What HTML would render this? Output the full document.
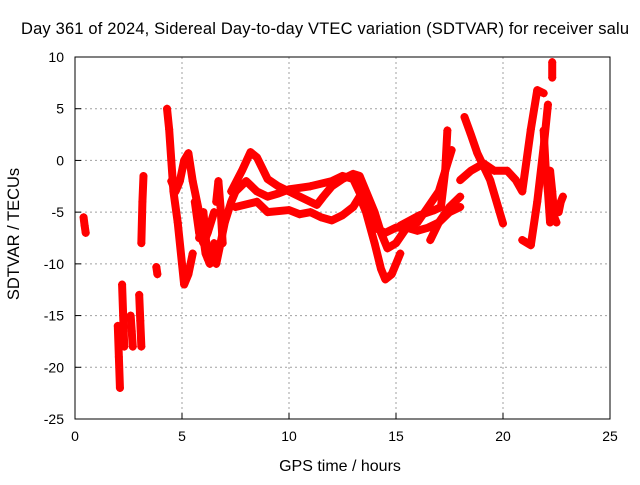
<!DOCTYPE html>
<html><head><meta charset="utf-8"><style>
body{margin:0;background:#fff}
svg text{font-family:"Liberation Sans",sans-serif;font-size:14px;fill:#000}
</style></head><body>
<svg width="640" height="480" xmlns="http://www.w3.org/2000/svg">
<rect width="640" height="480" fill="#fff"/>
<g id="grid"></g>
<g id="series"></g>
<rect x="75" y="57" width="535" height="362" fill="none" stroke="#000" stroke-width="1"/>
<g id="ticks"></g>
<text x="325" y="34" text-anchor="middle" style="font-size:16.5px" textLength="608">Day 361 of 2024, Sidereal Day-to-day VTEC variation (SDTVAR) for receiver salu</text>
<text x="340" y="471" text-anchor="middle" style="font-size:16px">GPS time / hours</text>
<text transform="translate(19,234) rotate(-90)" text-anchor="middle" style="font-size:16.5px">SDTVAR / TECUs</text>
</svg>
<script>
const xTicks=[0,5,10,15,20,25];
const yTicks=[-25,-20,-15,-10,-5,0,5,10];
const traces=[
[[0.4,-5.5],[0.45,-6.3],[0.5,-7]],
[[2.0,-16],[2.05,-19],[2.1,-22]],
[[2.2,-12],[2.25,-15],[2.3,-18]],
[[2.6,-15],[2.65,-16.5],[2.7,-18]],
[[3.0,-13],[3.05,-15.5],[3.1,-18]],
[[3.2,-1.5],[3.15,-4],[3.1,-8]],
[[3.8,-10.3],[3.85,-11]],
[[4.3,5],[4.4,3],[4.5,0],[4.6,-3],[4.8,-6],[5.0,-10],[5.1,-12],[5.3,-11],[5.5,-9]],
[[4.5,-2],[4.7,-3],[4.9,-2],[5.1,0],[5.3,0.7],[5.5,-2],[5.7,-4],[5.9,-6],[6.1,-9],[6.3,-10],[6.5,-8]],
[[5.6,-4],[5.8,-7],[6.0,-8],[6.2,-7],[6.5,-5]],
[[6.6,-10],[6.8,-8],[7.0,-6],[7.3,-4],[7.6,-2.5]],
[[6.6,-4],[6.7,-2],[6.8,-4.5],[6.9,-8]],
[[5.8,-7.5],[6.0,-5],[6.2,-9.5]],
[[7.3,-3],[7.8,-1],[8.2,0.8],[8.5,0.3],[9,-1.8],[9.5,-2.5],[10,-3],[10.5,-3.5],[11,-4],[11.3,-4.3],[11.6,-3.5],[12,-2.5],[12.5,-1.8],[13,-1.3],[13.3,-1.5],[13.6,-3],[14,-5],[14.3,-7],[14.6,-8.5],[15,-8],[15.5,-6.5],[16,-6],[16.5,-4.5],[17,-3],[17.3,-1],[17.6,1]],
[[7.5,-4.5],[8.5,-4],[9,-5],[10,-4.8],[10.5,-5.2],[11,-5],[11.5,-5.5],[12,-5.8],[12.5,-5.3],[13,-4.5],[13.3,-3.5],[13.6,-5],[14,-8],[14.3,-10.5],[14.5,-11.5],[14.8,-11],[15,-10],[15.2,-9]],
[[7.5,-3],[8,-2],[8.5,-3],[9,-3.5],[9.5,-3.2],[10,-2.8],[11,-2.5],[12,-2],[12.5,-1.5],[13,-1.8],[13.5,-4],[14,-6.5],[14.5,-7],[15,-6.5],[15.5,-6.5],[16,-6.8],[16.5,-6.5],[17,-6],[17.5,-5],[18,-4.5]],
[[15.2,-6.3],[16.1,-5.3],[16.8,-4.8],[17.1,-4.5],[17.3,-1],[17.4,2.9]],
[[16.6,-7.7],[17.0,-6],[17.5,-4.5],[18,-3.5]],
[[18.2,4.2],[18.5,2.5],[18.8,0.7],[19.4,-1.9],[20,-6.1]],
[[18,-1.9],[18.5,-1],[19.1,-0.3],[19.6,-1],[20.2,-1],[20.6,-1.9],[20.9,-3],[21.3,3],[21.6,6.8],[21.9,6.5]],
[[20.9,-7.7],[21.3,-8.2],[21.6,-4],[21.9,1.3],[22.1,5.4]],
[[21.9,2.9],[22.0,-1],[22.1,-3],[22.2,-6]],
[[22.2,-1],[22.3,-3],[22.4,-5.5],[22.5,-6]],
[[22.6,-5],[22.7,-4],[22.8,-3.5]],
[[22.3,9.5],[22.3,8]]
];
const NS='http://www.w3.org/2000/svg';
const X0=75,X1=610,Y0=419,Y1=57;
function sx(h){return X0+(h-0)/(25-0)*(X1-X0);}
function sy(v){return Y0-(v+25)/35*(Y0-Y1);}
const grid=document.getElementById('grid'),ticks=document.getElementById('ticks'),ser=document.getElementById('series');
function mk(tag,attrs,parent){const e=document.createElementNS(NS,tag);for(const k in attrs)e.setAttribute(k,attrs[k]);parent.appendChild(e);return e;}
xTicks.forEach(t=>{const x=sx(t);
 if(t>0&&t<25){const l=mk('line',{x1:x,x2:x,y1:Y1,y2:Y0,stroke:'#a0a0a0','stroke-dasharray':'2,3'},grid);}
 const tk=mk('line',{x1:x,x2:x,y1:Y0,y2:Y0-6,stroke:'#000'},ticks);
 const tx=mk('text',{x:x,y:Y0+22,'text-anchor':'middle'},ticks);tx.textContent=t;});
yTicks.forEach(t=>{const y=sy(t);
 if(t>-25&&t<10){const l=mk('line',{x1:X0,x2:X1,y1:y,y2:y,stroke:'#a0a0a0','stroke-dasharray':'2,3'},grid);}
 const tk=mk('line',{x1:X0,x2:X0+6,y1:y,y2:y,stroke:'#000'},ticks);
 const tx=mk('text',{x:X0-11,y:y+5,'text-anchor':'end'},ticks);tx.textContent=t;});
traces.forEach(tr=>{
 const pts=tr.map(p=>sx(p[0])+','+sy(p[1])).join(' ');
 const pl=mk('polyline',{points:pts,fill:'none',stroke:'#ff0000','stroke-width':8,'stroke-linejoin':'round','stroke-linecap':'round'},ser);
 
 
 tr.forEach(p=>{const x=sx(p[0]),y=sy(p[1]);
  const m=mk('path',{d:`M${x-4},${y}H${x+4}M${x},${y-4}V${y+4}`,stroke:'#ff0000','stroke-width':1.2},ser);
  
  });
});
</script>
</body></html>
